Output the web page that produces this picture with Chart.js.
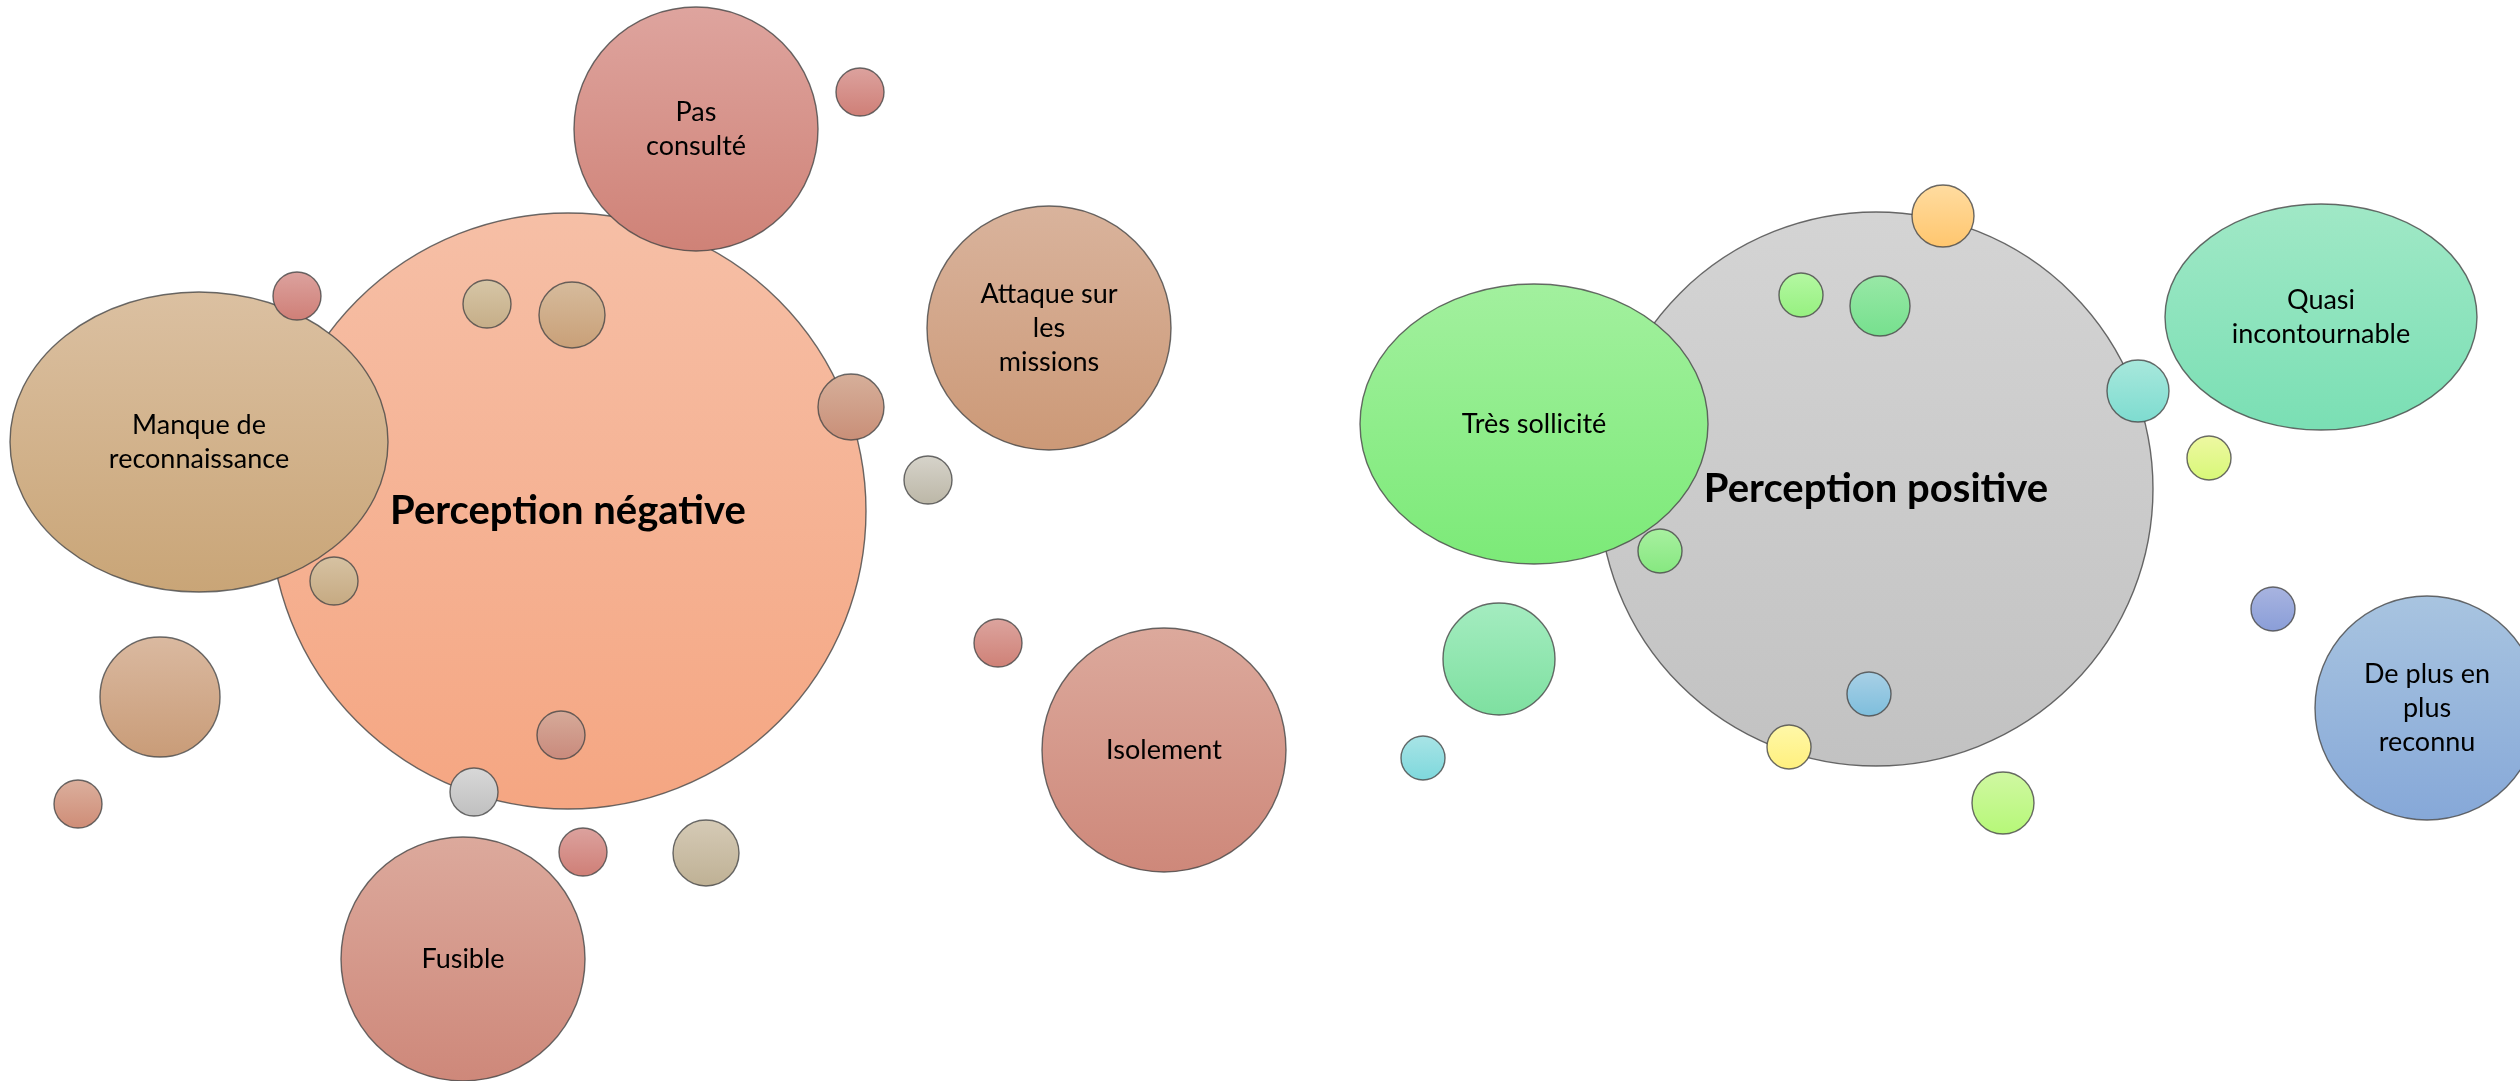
<!DOCTYPE html>
<html lang="fr">
<head>
<meta charset="utf-8">
<title>Perception</title>
<script src="https://cdn.jsdelivr.net/npm/chart.js@4.4.1/dist/chart.umd.min.js"></script>
<style>
  html, body { margin: 0; padding: 0; background: #ffffff; }
  #zone { width: 2520px; height: 1081px; }
</style>
</head>
<body>
<div id="zone"><canvas id="bulles" width="2520" height="1081"></canvas></div>
<script>
// ---- Données : perception négative (du plus grand au plus petit) ----
const negLabels = ['Perception négative', 'Manque de\nreconnaissance', 'Pas\nconsulté', 'Attaque sur\nles\nmissions',
  'Isolement', 'Fusible', '', '', '', '', '', '', '', '', '', '', '', '', '', ''];
const negX  = [568, 199, 696, 1049, 1164, 463, 160, 572, 851, 706, 297, 487, 928, 334, 998, 78, 561, 474, 583, 860];
const negY  = [511, 442, 129, 328, 750, 959, 697, 315, 407, 853, 296, 304, 480, 581, 643, 804, 735, 792, 852, 92];
const negRx = [298, 189, 122, 122, 122, 122, 60, 33, 33, 33, 24, 24, 24, 24, 24, 24, 24, 24, 24, 24];
const negRy = [298, 150, 122, 122, 122, 122, 60, 33, 33, 33, 24, 24, 24, 24, 24, 24, 24, 24, 24, 24];

// ---- Données : perception positive ----
const posLabels = ['Perception positive', 'Très sollicité', 'Quasi\nincontournable', 'De plus en\nplus\nreconnu',
  '', '', '', '', '', '', '', '', '', '', '', ''];
const posX  = [1876, 1534, 2321, 2427, 1499, 1943, 1880, 2138, 2003, 1801, 2209, 1660, 1423, 1869, 1789, 2273];
const posY  = [489, 424, 317, 708, 659, 216, 306, 391, 803, 295, 458, 551, 758, 694, 747, 609];
const posRx = [277, 174, 156, 112, 56, 31, 30, 31, 31, 22, 22, 22, 22, 22, 22, 22];
const posRy = [277, 140, 113, 112, 56, 31, 30, 31, 31, 22, 22, 22, 22, 22, 22, 22];

// couleurs (haut / bas du dégradé)
const negHaut = ['#F6BFA6', '#DBC0A1', '#DEA49E', '#D9B39C', '#DCA99C', '#DCA99C', '#DAB9A0', '#D6BB9C', '#D6AF9A', '#D5CAB6',
  '#DCA29E', '#D6C6A6', '#D6D3CA', '#D6C2A2', '#DCA49E', '#DBAF9D', '#D6AA99', '#D8D8D8', '#DCA29E', '#DCA29E'];
const negBas  = ['#F5A682', '#C9A577', '#CF8277', '#CC9977', '#CE887A', '#CE887A', '#C99C78', '#C9A078', '#C98F78', '#BFB195',
  '#CF7F77', '#C6AE88', '#BCB7A7', '#C6AA82', '#CF8177', '#CF8D77', '#C98A7C', '#C0C0C0', '#CF7F77', '#CF7F77'];
const posHaut = ['#D4D4D4', '#A2F09E', '#A0E8C6', '#A8C4E0', '#A4ECC0', '#FFDCA0', '#98E8A6', '#A8E8DC', '#D0F8A2', '#B4F8A2',
  '#EEF8A2', '#A8F0A0', '#A8E4E6', '#A8D0E6', '#FFF8A8', '#A8B4E0'];
const posBas  = ['#C2C2C2', '#7CEA78', '#7ADFB4', '#86A8D8', '#7EE0A0', '#FFC66E', '#76E08E', '#7EDCD0', '#B6F878', '#96F080',
  '#D8F878', '#86E880', '#7ED8DC', '#7EBEDC', '#FFF07E', '#8A9ED8'];

// dessine une bulle (cercle ou ellipse) avec dégradé vertical
function bulle(rx, ry, haut, bas) {
  const c = document.createElement('canvas');
  c.width = Math.ceil(2 * rx + 4);
  c.height = Math.ceil(2 * ry + 4);
  const g = c.getContext('2d');
  const grad = g.createLinearGradient(0, 2, 0, 2 * ry + 2);
  grad.addColorStop(0, haut);
  grad.addColorStop(1, bas);
  g.beginPath();
  g.ellipse(c.width / 2, c.height / 2, rx, ry, 0, 0, Math.PI * 2);
  g.fillStyle = grad;
  g.fill();
  g.lineWidth = 1.4;
  g.strokeStyle = 'rgba(70, 70, 70, 0.8)';
  g.stroke();
  return c;
}

function serie(xs, ys, rx) {
  return xs.map((x, i) => ({ x: x, y: ys[i], r: rx[i] }));
}

const negImages = negRx.map((rx, i) => bulle(rx, negRy[i], negHaut[i], negBas[i]));
const posImages = posRx.map((rx, i) => bulle(rx, posRy[i], posHaut[i], posBas[i]));

// texte au centre des bulles
const etiquettes = {
  id: 'etiquettes',
  afterDatasetsDraw(chart) {
    const ctx = chart.ctx;
    chart.data.datasets.forEach((ds, di) => {
      const meta = chart.getDatasetMeta(di);
      meta.data.forEach((pt, i) => {
        const txt = ds.etiquettes[i];
        if (!txt) return;
        const lignes = txt.split('\n');
        const gras = i === 0;
        const taille = gras ? 40 : 27;
        const hauteur = gras ? 46 : 34;
        ctx.save();
        ctx.font = (gras ? 'bold ' : '') + taille + 'px Lato, "Open Sans", sans-serif';
        ctx.fillStyle = '#000000';
        ctx.textAlign = 'center';
        ctx.textBaseline = 'middle';
        const y0 = pt.y - (lignes.length - 1) * hauteur / 2;
        lignes.forEach((l, k) => ctx.fillText(l, pt.x, y0 + k * hauteur));
        ctx.restore();
      });
    });
  }
};

new Chart(document.getElementById('bulles'), {
  type: 'bubble',
  data: {
    datasets: [
      {
        label: 'Perception négative',
        data: serie(negX, negY, negRx),
        etiquettes: negLabels,
        pointStyle: negImages,
        clip: false
      },
      {
        label: 'Perception positive',
        data: serie(posX, posY, posRx),
        etiquettes: posLabels,
        pointStyle: posImages,
        clip: false
      }
    ]
  },
  options: {
    responsive: false,
    animation: false,
    layout: { padding: 0, autoPadding: false },
    plugins: {
      legend: { display: false },
      tooltip: { enabled: false }
    },
    scales: {
      x: { type: 'linear', min: 0, max: 2520, display: false },
      y: { type: 'linear', min: 0, max: 1081, reverse: true, display: false }
    }
  },
  plugins: [etiquettes]
});
</script>
</body>
</html>
